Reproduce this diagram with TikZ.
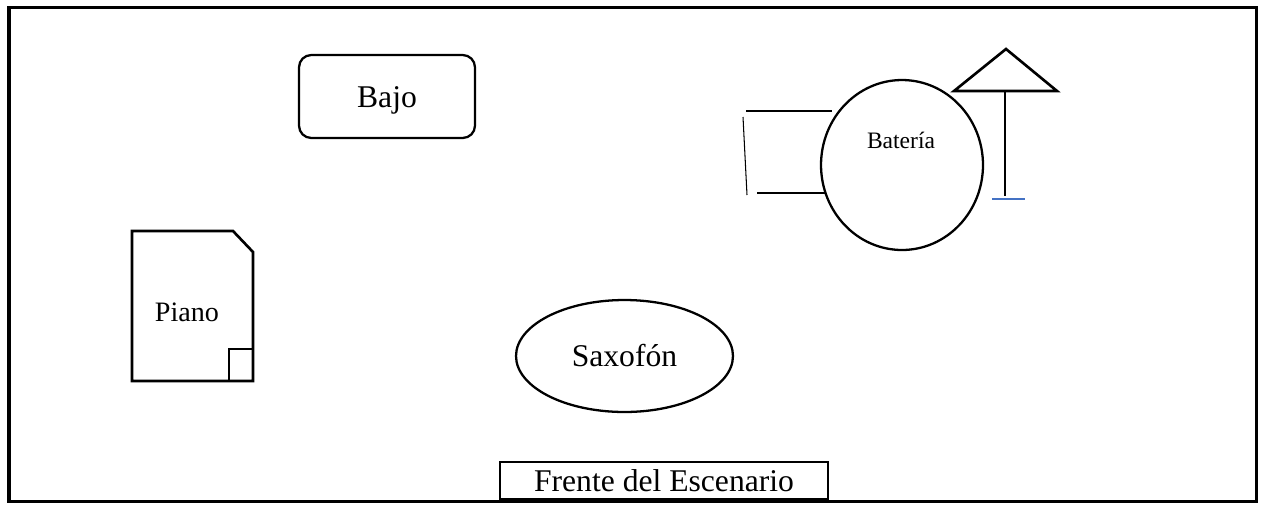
\documentclass[tikz,border=0pt]{standalone}
\usepackage{fontspec}
\setmainfont{Liberation Serif}
\usetikzlibrary{shapes.geometric}
\definecolor{lineblue}{RGB}{68,114,196}
\tikzset{
  thick2/.style={line width=1.3pt},
  thin1/.style={line width=0.6pt},
  lbl/.style={font=\fontsize{18}{20}\selectfont, inner sep=0pt}
}
\begin{document}
\begin{tikzpicture}[x=0.02cm,y=-0.02cm]
\useasboundingbox (0,0) rectangle (1261,505);
% outer frame
\draw[line width=2.1pt] (9,7.5) rectangle (1256.5,501.5);
% Bajo
\node[draw, thick2, rounded corners=7pt, minimum width=3.52cm, minimum height=1.66cm, lbl] (bajo) at (387,96.5) {};
\node[lbl] (bajotxt) at (387,100) {Bajo};
% Piano
\draw[line width=1.5pt] (132,231) -- (233,231) -- (253,252) -- (253,381) -- (132,381) -- cycle;
\draw[thin1] (229,381) -- (229,349) -- (253,349);
\node[lbl, font=\fontsize{16}{18}\selectfont] (piano) at (187,312) {Piano};
% Saxofon
\node[ellipse, draw, thick2, minimum width=4.34cm, minimum height=2.24cm, inner sep=0pt, lbl] (sax) at (624.5,356) {Saxofón};
% Bateria
\draw[thin1] (746,111) -- (832,111);
\draw[thin1] (757,193) -- (841,193);
\draw[thin1] (743,117) -- (747,195);
\node[ellipse, draw, thick2, fill=white, minimum width=3.24cm, minimum height=3.4cm, inner sep=0pt] (batell) at (902,165) {};
\node[lbl, font=\fontsize{13.4}{15}\selectfont] (bat) at (901,140) {Batería};
% cymbal
\draw[line width=1.5pt, line join=miter] (1006,49) -- (1057,91) -- (954,91) -- cycle;
\draw[thin1] (1005,92) -- (1005,196);
\draw[lineblue, thin1] (992,199) -- (1025,199);
% Frente
\node[draw, thick2, fill=white, minimum width=6.56cm, minimum height=0.74cm, inner sep=0pt, lbl] (frente) at (664,480.5) {};
\node[lbl] (frentetxt) at (664,481) {Frente del Escenario};
\end{tikzpicture}
\end{document}
